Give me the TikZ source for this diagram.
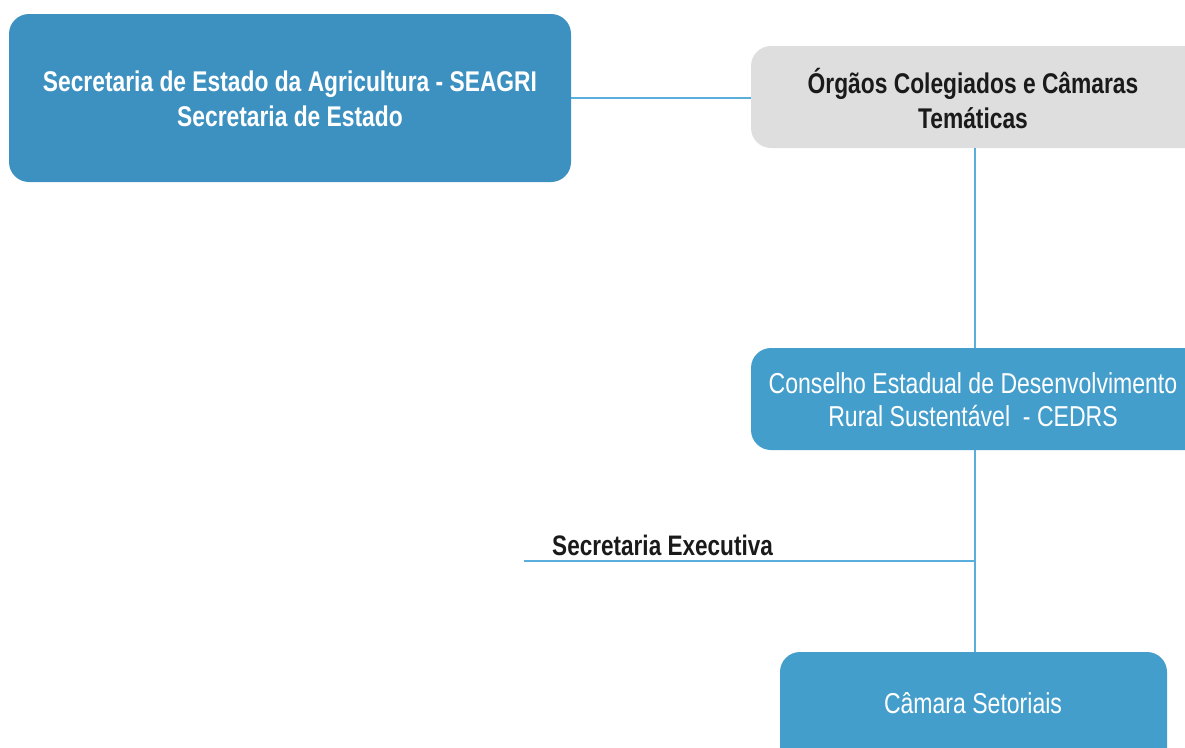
\documentclass[tikz,border=0pt]{standalone}
\usepackage{fontspec}
\setmainfont{Liberation Sans}
\newfontfamily\narrow[FakeStretch=0.80]{Liberation Sans}
\definecolor{boxblue}{HTML}{3D91C1}
\definecolor{boxblueb}{HTML}{449ECC}
\definecolor{boxgray}{HTML}{DEDEDE}
\definecolor{linkblue}{HTML}{5AAEDC}
\definecolor{txtdark}{HTML}{1A1A1A}
\tikzset{
  orgbox/.style={rectangle, rounded corners=20pt, inner sep=0pt},
  boldtxt/.style={align=center, inner sep=0pt, font=\narrow\bfseries\fontsize{28.5}{35}\selectfont},
  regtxt/.style={align=center, inner sep=0pt, font=\narrow\fontsize{28.8}{33}\selectfont},
  link/.style={draw=linkblue, line width=1.6pt},
}
\begin{document}
\begin{tikzpicture}[x=1pt,y=-1pt]
\useasboundingbox (0,0) rectangle (1185,747);
\clip (0,0) rectangle (1185,747);
\node[orgbox, fill=boxblue, minimum width=562pt, minimum height=168pt] (seagri) at (290,98) {};
\node[boldtxt, text=white] (seagrit) at (290,99) {Secretaria de Estado da Agricultura - SEAGRI\\Secretaria de Estado};
\node[orgbox, fill=boxgray, minimum width=474pt, minimum height=102pt] (orgaos) at (988,97) {};
\node[boldtxt, text=txtdark] (orgaost) at (973,99) {Órgãos Colegiados e Câmaras\\Temáticas};
\node[orgbox, fill=boxblueb, minimum width=474pt, minimum height=102pt] (cedrs) at (988,399) {};
\node[regtxt, text=white] (cedrst) at (973,400) {Conselho Estadual de Desenvolvimento\\Rural Sustentável\ \ - CEDRS};
\node[orgbox, fill=boxblueb, minimum width=387pt, minimum height=140pt] (camara) at (973.5,722) {};
\node[regtxt, text=white] (camarat) at (973,703) {Câmara Setoriais};
\coordinate (sx) at (974,561);
\coordinate (sl) at (524,561);
\node[anchor=south west, inner sep=0pt, text=txtdark, font=\narrow\bfseries\fontsize{28.2}{30}\selectfont] (secexec) at (552,556) {Secretaria Executiva};
\draw[link] (seagri.east |- 0,98) -- (orgaos.west |- 0,98);
\draw[link] (orgaos.south -| 975,0) -- (cedrs.north -| 975,0);
\draw[link] (cedrs.south -| 975,0) -- (camara.north -| 975,0);
\draw[link] (sl) -- (sx);
\end{tikzpicture}
\end{document}
